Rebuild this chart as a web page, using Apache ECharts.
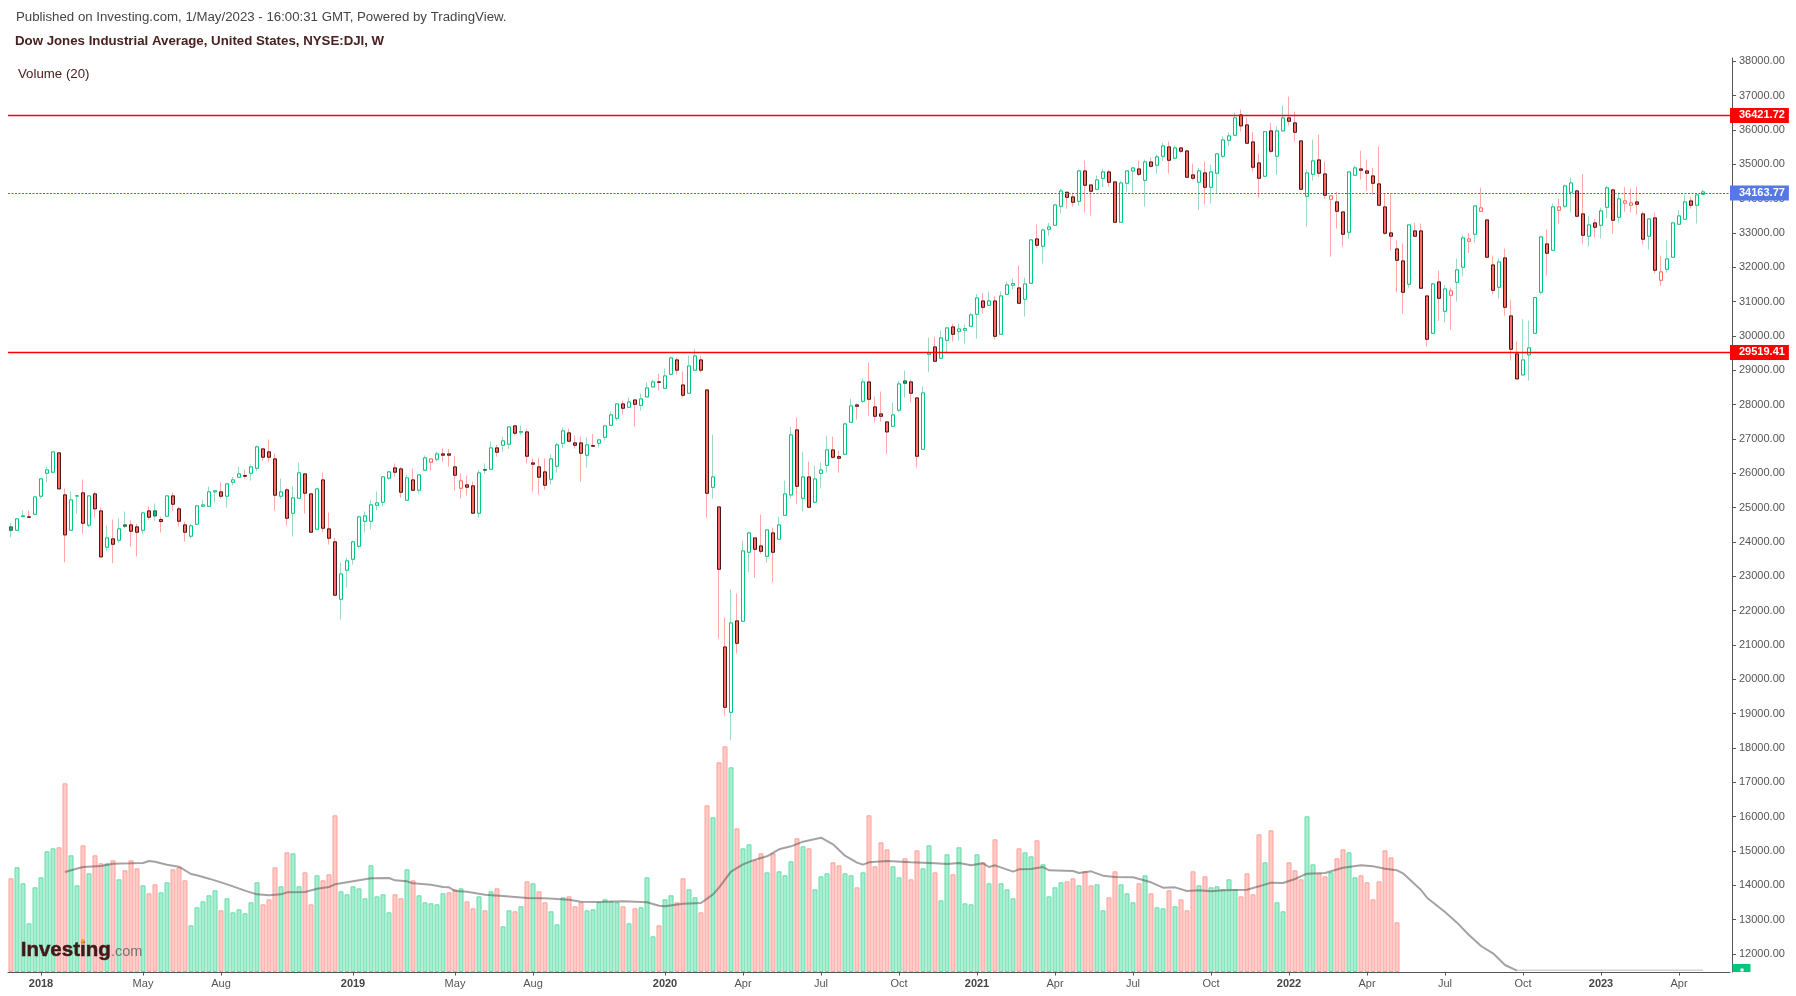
<!DOCTYPE html>
<html><head><meta charset="utf-8">
<style>html,body{margin:0;padding:0;background:#fff}#c{width:1796px;height:996px}</style>
<script src="https://cdn.jsdelivr.net/npm/echarts@6/dist/echarts.min.js"></script>
</head><body><div id="c"></div>
<script>
const opens=[24436,24339,24737,24727,24805,25330,26000,26029,26592,25368,
24339,25339,25427,24485,25397,24902,23844,24087,24048,24494,
24494,24436,24339,24902,24902,24650,24747,25339,24961,24494,
24164,24514,25038,25038,25456,25456,25330,25737,25883,25932,
26000,26145,26708,26621,26417,25330,25514,24834,25271,25980,
25397,24368,25805,24378,24000,22329,23174,23494,23873,24601,
24601,25067,25155,25854,26155,26126,25213,25805,25504,26087,
26320,26407,26563,26563,26184,25563,25660,25631,24834,26106,
26116,26737,26815,26844,27378,27194,27203,26300,26184,26038,
25825,26203,26873,27174,26883,26883,26524,26805,26873,27047,
27397,27600,28018,27921,28134,27979,28222,28513,28659,28474,
28882,29300,28571,28329,29001,29300,28426,25590,25018,20939,
19036,21697,21687,23697,24115,23881,23580,24260,24076,24775,
25367,27261,25270,25891,25154,25998,26231,26678,26484,26552,
27484,27989,28096,28659,27931,27727,27494,27367,27834,28688,
28659,28193,26697,29465,29678,29348,29872,30261,30134,30164,
30280,30630,31018,30892,31018,30047,31212,31475,31397,31067,
31533,32824,32611,33106,33222,33776,34184,34048,33921,34805,
34397,34271,34591,34776,34485,33310,34446,34805,34863,34533,
35067,34971,35233,35505,35175,35476,35388,34689,34476,34748,
34330,34738,35233,35699,35845,36437,36146,35650,35039,34650,
35971,35233,35971,36350,36204,35680,34068,34709,35126,34718,
33980,33903,33611,33019,34680,34864,34806,34660,34427,33757,
33000,32534,32184,31504,33058,33058,31164,30077,31572,30718,
31184,31563,31999,32757,32961,33631,33378,32067,31417,32271,
30582,29475,28863,29446,30077,31271,32679,32495,33660,33777,
34184,34223,33553,32903,33291,33223,33747,34252,33456,33864,
33806,33903,33553,32903,33437,31621,31941,32291,33252,33398,
33932,33806,34126];
const closes=[24339,24669,24757,24718,25310,25834,26097,26621,25543,24203,
25223,25339,24543,25339,24961,23562,24116,23931,24378,24456,
24310,24281,24844,24718,24757,24592,25339,25096,24601,24281,
24465,25048,25077,25456,25485,25330,25689,25805,25980,25912,
26184,26767,26466,26466,25359,25456,24689,25281,26009,25417,
24281,25543,24397,24106,22446,23067,23446,24000,24727,24757,
25077,25135,25893,26038,26029,25446,25864,25504,25951,26446,
26417,26563,26524,26524,25941,25776,25592,24834,26009,26087,
26737,26611,26941,27349,27165,27213,26495,26262,25883,25650,
26417,26825,27233,26932,26815,26582,26825,26786,26971,27377,
27698,28018,27892,28076,28008,28164,28484,28659,28649,28834,
29358,29001,28270,29125,29416,29001,25416,25891,23202,19182,
21639,21046,23736,24260,23784,23726,24348,23697,24493,25396,
27115,25620,25891,25008,25833,26095,26678,26464,26435,27435,
27960,27950,28659,28154,27659,27659,27202,27698,28601,28620,
28329,26494,28338,29503,29261,29940,30232,30047,30202,30212,
30610,31106,30834,31018,29989,31164,31484,31523,30950,31513,
32795,32640,33086,33174,33815,34222,34038,33892,34805,34387,
34213,34543,34776,34475,33310,34455,34805,34892,34708,35067,
34941,35214,35534,35116,35476,35379,34621,34592,34806,34330,
34777,35301,35709,35825,36350,36117,35612,34913,34592,35950,
35379,35971,36350,36253,35932,34272,34748,35097,34738,34097,
34078,33631,32961,34777,34893,34825,34738,34446,33806,32990,
32903,32203,31271,33233,32903,31388,29902,31514,31096,31368,
31310,31922,32854,32825,33786,33728,32291,31329,32155,30834,
29611,28747,29300,29650,31116,32883,32407,33757,33757,34369,
34456,33485,32932,33233,33165,33641,34311,33369,33990,33932,
33874,33835,32815,33407,31912,31864,32242,33291,33495,33903,
33806,34107,34194];
const lows=[24135,24339,24737,24718,24776,25262,25737,25990,25543,23407,
24339,24825,24242,24426,24708,23562,23747,23378,23980,24397,
23863,23572,24213,24650,24621,24271,24747,24902,24446,24009,
24096,24514,25009,25019,25145,25262,25000,25640,25883,25844,
25786,26058,26359,26339,24912,25252,24475,24155,25271,24825,
24281,24368,24271,23922,22446,21737,22669,23339,23815,24271,
24359,24922,25029,25796,25893,25291,25213,25504,25407,26087,
26077,26339,26339,26194,25495,25262,25349,24834,24708,25990,
26087,26485,26631,26708,27097,27116,26281,25465,25378,25514,
25669,26019,26737,26932,26718,25757,26165,26786,26747,26960,
27397,27532,27707,27921,27358,27824,28222,28513,28406,28445,
28853,28872,28202,28329,29001,28931,24707,25260,21182,18939,
18220,20745,21687,23124,22959,23658,23396,22813,24076,24775,
25260,25115,24882,25008,25115,25552,26018,26425,26018,26552,
27484,27562,28047,27678,27474,27503,26571,27367,27775,28202,
28057,26163,26697,28940,29261,29348,29494,29834,29863,29775,
30280,29921,30649,30892,29892,30047,31212,31348,30950,30562,
31533,32552,32106,32921,33222,33562,33708,33766,33795,33591,
33504,34271,34339,34339,33310,33310,34193,34174,34659,33766,
34902,34727,35087,34728,35175,35330,34621,34534,33670,33825,
33854,34146,35184,35524,35845,35952,35612,34786,34029,34650,
35330,34689,35971,36126,35660,34272,33184,34524,34631,33990,
32310,33126,32602,32835,34680,34553,34223,34116,33806,32951,
32485,31271,30650,31407,32903,31388,29689,30077,30436,30388,
30184,30999,31728,32417,32718,33631,32291,31213,31087,30592,
29281,28747,28863,28698,30058,31203,31757,32495,33272,33718,
33602,33475,32689,32602,32873,32835,33437,32980,33301,33621,
33602,33534,32660,32514,31815,31466,31844,32291,33252,33388,
33708,33272,34126];
const highs=[24553,24698,24912,24912,25310,25834,26184,26621,26592,25553,
25465,25339,25815,25339,25465,25000,24475,24650,24679,24883,
24621,24524,24883,25029,25116,24737,25339,25436,25029,24582,
24524,25048,25223,25611,25514,25728,25689,25893,26184,26106,
26252,26805,26708,26980,26572,25844,25572,25611,26310,25980,
25397,25543,26019,24854,24116,23397,23543,24038,24766,24883,
25223,25465,25893,26067,26281,26184,25951,26135,25980,26514,
26417,26631,26718,26708,26504,25990,25932,25757,26097,26281,
26922,26825,27058,27349,27407,27388,27291,26427,26446,26427,
26543,26893,27330,27301,27097,27068,27039,27145,26971,27377,
27795,28018,28115,28202,28134,28319,28649,28727,28902,29047,
29397,29368,28960,29426,29610,29426,28426,27125,25047,21794,
22610,22493,24037,24299,24115,24794,24348,24416,24736,25785,
27348,27620,26629,26338,26222,26309,27086,27066,26649,27474,
28173,28028,28756,29222,28232,28377,27494,28057,28688,28989,
28727,28193,28523,29950,29979,30154,30232,30358,30358,30329,
30669,31222,31251,31290,31154,31290,31581,31669,32047,31698,
32824,33242,33125,33290,33815,34290,34213,34164,34844,35106,
34397,34669,34873,34844,34485,34523,34805,34922,35106,35135,
35193,35281,35631,35660,35544,35505,35388,35019,34893,35087,
34990,35330,35806,35922,36505,36592,36359,35942,35311,35950,
36204,36097,36709,36971,36534,35680,34845,35719,35864,35078,
34078,34194,33611,34777,34961,35398,35136,34893,35515,34146,
34146,32776,32699,33233,33291,33272,31164,31543,31902,31475,
31407,32252,32932,32999,33786,34320,33378,32339,32252,32543,
31058,29844,30485,30446,31116,32903,33097,33854,33999,34408,
34612,34252,34718,33485,33408,33738,34369,34281,34184,34340,
34291,34349,33621,33437,33592,32339,32786,33320,33660,34116,
34048,34107,34262];
const volumes=[281,314,266,146,254,284,362,371,374,566,
350,260,380,296,350,326,326,335,278,305,
335,311,260,236,263,239,269,308,314,275,
140,194,212,230,245,185,221,179,188,176,
209,269,203,218,314,257,359,356,257,299,
203,290,275,293,470,242,233,257,251,221,
320,227,233,179,233,221,308,275,230,209,
206,203,236,239,248,251,212,191,227,185,
242,251,137,185,182,197,272,266,242,209,
182,143,224,227,197,209,185,188,209,218,
212,209,197,146,191,194,284,107,140,218,
230,209,281,248,224,179,500,464,629,677,
614,431,371,383,335,356,299,356,302,290,
332,401,377,371,248,287,296,329,320,296,
290,254,299,470,317,389,368,317,284,341,
278,365,311,380,299,215,353,293,374,206,
203,353,329,266,398,266,248,221,371,359,
347,395,323,227,254,269,272,281,260,302,
260,263,185,224,302,263,236,209,266,290,
236,194,191,245,197,218,185,302,260,287,
254,257,248,278,248,227,296,233,413,329,
425,209,182,329,305,278,467,323,296,287,
299,341,368,359,284,290,269,218,272,365,344,149];
const volumeDirections=("RGGGGGGGRR"+"GGRGRRGRGR"+"RRGRRGGRRR"+"GGGGGRGGGG"+"GGRRRGRGGR"+"RGRRRGGGGG"+"GGGGRRGRGG"+"GGGRRGRRGR"+"GRGGRGRGRR"+"GGGRRRGGGG"+"GGRGRGGGRG"+"GRRGGRRGRR"+"GRGGRRGRGG"+"GRGRGGGRRG"+"GRGRRRRGGR"+"RRGGRGGRGG"+"GGRGRGGGRG"+"GRGGGGRRGR"+"RGGRRGGGRG"+"RGGRGRRRGR"+"GGGGGRRRRG"+"RGGRRRGGRR"+"GRRGGRRRRRRR");
const volumeMaWeeks=[9,10,12,15,17,20,22,23,24,26,28,30,31,33,35,37,39,41,43,45,46,49,51,53,54,57,60,63,64,66,67,70,72,73,74,76,79,82,86,89,93,95,98,99,102,106,108,109,112,115,117,118,120,122,124,126,128,130,132,135,137,139,141,142,143,146,150,154,156,158,160,162,163,164,167,168,170,172,173,177,178,180,182,184,187,190,192,194,196,198,200,202,206,208,210,212,214,216,219,222,225,227,229,231,232,235,236,239,241,243,245,247,249,251];
const volumeMaValues=[300,305,315,318,325,326,327,333,331,322,316,294,290,280,269,257,244,233,230,233,239,240,250,255,263,272,281,282,275,272,266,262,255,254,243,241,232,228,222,221,217,211,210,211,212,209,199,197,205,207,233,253,301,323,337,347,368,377,391,403,383,349,328,322,329,333,329,326,324,327,320,326,315,320,301,308,309,315,305,303,297,302,289,285,284,269,253,254,243,245,242,245,247,257,268,267,279,295,297,313,320,317,310,305,296,246,223,180,148,111,78,56,21,4];
const volumeMaTailWeeks=[251,282];
const volumeMaTailValues=[5,5];
const priceTicks=[12000,13000,14000,15000,16000,17000,18000,19000,20000,21000,22000,23000,24000,25000,26000,27000,28000,29000,30000,31000,32000,33000,34000,35000,36000,37000,38000];
const tickDates=['2018-01-01','2018-04-30','2018-07-30','2018-12-31','2019-04-29','2019-07-29','2019-12-30','2020-03-30','2020-06-29','2020-09-28','2020-12-28','2021-03-29','2021-06-28','2021-09-27','2021-12-27','2022-03-28','2022-06-27','2022-09-26','2022-12-26','2023-03-27'];
const tickLabels=['2018','May','Aug','2019','May','Aug','2020','Apr','Jul','Oct','2021','Apr','Jul','Oct','2022','Apr','Jul','Oct','2023','Apr'];
const resistanceLevel=36421.72, supportLevel=29519.41, lastPrice=34163.77;

const WEEK_COUNT=287;
const weeks=[];
for(let i=0;i<WEEK_COUNT;i++){weeks.push(new Date(Date.UTC(2017,10,27+7*i)).toISOString().slice(0,10));}
const tickMap={};tickDates.forEach((d,i)=>{tickMap[d]=tickLabels[i];});
const isTick=(i,v)=>tickMap[v]!==undefined;

const GREEN='#00c77b',RED='#ff6a5e',DARK='#4a1616',WICK_G='#9fd8c0',WICK_R='#ffa8a4';
const bodyData=[],wickData=[];
opens.forEach((o,i)=>{
  const c=closes[i],up=c>=o,rising=i===0?false:c>closes[i-1];
  const isGreen=i===0?true:rising;
  const fill=up?'#ffffff':(isGreen?GREEN:RED);
  const border=up?(isGreen?GREEN:RED):(isGreen?'#2f5f4c':DARK);
  const wc=isGreen?WICK_G:WICK_R;
  bodyData.push({value:[o,c,Math.min(o,c),Math.max(o,c)],itemStyle:{color:fill,color0:fill,borderColor:border,borderColor0:border,borderColorDoji:border}});
  wickData.push({value:[o,c,lows[i],highs[i]],itemStyle:{color:'#fff',color0:'#fff',borderColor:wc,borderColor0:wc,borderColorDoji:wc}});
});
const volData=volumes.map((v,i)=>{
  const g=volumeDirections[i]==='G';
  return {value:v,itemStyle:{color:g?'#a5eecf':'#ffc9c5',borderColor:g?'#66dcaa':'#ffa19c',borderWidth:1}};
});
const levelLabel=(bg)=>({show:true,position:'end',distance:0,formatter:p=>p.value.toFixed(2),color:'#fff',fontFamily:'Liberation Sans',fontWeight:'bold',fontSize:11,lineHeight:11,backgroundColor:bg,padding:[2,4,2,9]});

const chart=echarts.init(document.getElementById('c'),null,{renderer:'canvas'});
chart.setOption({
  animation:false,backgroundColor:'#fff',
  title:[
    {text:'Published on Investing.com, 1/May/2023 - 16:00:31 GMT, Powered by TradingView.',left:16,top:11,padding:0,textStyle:{fontFamily:'Liberation Sans',fontSize:13.25,fontWeight:'normal',color:'#444'}},
    {text:'Dow Jones Industrial Average, United States, NYSE:DJI, W',left:15,top:35,padding:0,textStyle:{fontFamily:'Liberation Sans',fontSize:13.25,fontWeight:'bold',color:'#4a2020'}},
    {text:'Volume (20)',left:18,top:67.5,padding:0,textStyle:{fontFamily:'Liberation Sans',fontSize:13.25,fontWeight:'normal',color:'#4a2020'}}
  ],
  grid:{left:8,top:58,width:1722,height:914,containLabel:false},
  xAxis:{type:'category',data:weeks,boundaryGap:true,
    axisLine:{show:true,lineStyle:{color:'#555',width:1}},
    axisTick:{show:true,interval:isTick,alignWithLabel:true,length:3.5,lineStyle:{color:'#555'}},
    axisLabel:{show:true,interval:isTick,margin:6,hideOverlap:false,fontFamily:'Liberation Sans',fontSize:11,color:'#555',
      formatter:v=>{const t=tickMap[v];return /^\d{4}$/.test(t)?'{y|'+t+'}':t;},
      rich:{y:{fontFamily:'Liberation Sans',fontSize:11,fontWeight:'bold',color:'#444'}}},
    splitLine:{show:false}},
  yAxis:[
    {type:'value',position:'right',offset:2.5,min:11470,max:38095,scale:false,
     axisLine:{show:true,lineStyle:{color:'#555',width:1}},
     axisTick:{show:true,length:3.5,lineStyle:{color:'#555'},customValues:priceTicks},
     axisLabel:{show:true,margin:6.5,padding:[2,0,0,0],fontFamily:'Liberation Sans',fontSize:11,color:'#555',customValues:priceTicks,formatter:v=>v.toFixed(2)},
     splitLine:{show:false}},
    {type:'value',show:false,min:0,max:2742,splitLine:{show:false}}
  ],
  series:[
    {name:'Volume',type:'bar',yAxisIndex:1,barWidth:5,data:volData,silent:true,z:1},
    {name:'Volume MA 20',type:'line',yAxisIndex:1,data:volumeMaWeeks.map((w,i)=>[w,volumeMaValues[i]]),symbol:'none',silent:true,z:2,
      lineStyle:{color:'rgba(95,85,85,0.55)',width:2}},
    {name:'Volume MA 20 floor',type:'line',yAxisIndex:1,data:volumeMaTailWeeks.map((w,i)=>[w,volumeMaTailValues[i]]),symbol:'none',silent:true,z:2,
      lineStyle:{color:'#d4d4d4',width:1.5}},
    {name:'DJI range',type:'candlestick',yAxisIndex:0,barWidth:4,data:wickData,silent:true,z:3,itemStyle:{borderWidth:1}},
    {name:'DJI',type:'candlestick',yAxisIndex:0,barWidth:4,data:bodyData,silent:true,z:4,itemStyle:{borderWidth:1},
      markLine:{silent:true,symbol:'none',animation:false,z:5,
        data:[
          {yAxis:resistanceLevel,lineStyle:{color:'#ff0000',width:1.4,type:'solid'},label:levelLabel('#ff0000')},
          {yAxis:lastPrice,lineStyle:{color:'#3a66e8',width:1.2,type:[2,1.5]},label:levelLabel('#5578e6')},
          {yAxis:supportLevel,lineStyle:{color:'#ff0000',width:1.4,type:'solid'},label:levelLabel('#ff0000')}
        ]}}
  ],
  graphic:[
    {type:'text',left:20.5,top:940,z:20,silent:true,style:{text:'Investing',fontFamily:'Liberation Sans',fontWeight:'bold',fontSize:20.5,fill:'#3f1a1a',stroke:'#3f1a1a',lineWidth:0.5}},
    {type:'text',left:111,top:944,z:20,silent:true,style:{text:'.com',fontFamily:'Liberation Sans',fontSize:14.5,fill:'#7d7272'}},
    {type:'circle',shape:{cx:82.7,cy:941,r:2},z:21,silent:true,style:{fill:'#f7a12a'}},
    {type:'rect',shape:{x:1732.5,y:964,width:18,height:8},z:20,silent:true,style:{fill:'#00c77b'}},
    {type:'circle',shape:{cx:1742,cy:970,r:1.8},z:21,silent:true,style:{fill:'#ffffff'}}
  ]
});
</script></body></html>
